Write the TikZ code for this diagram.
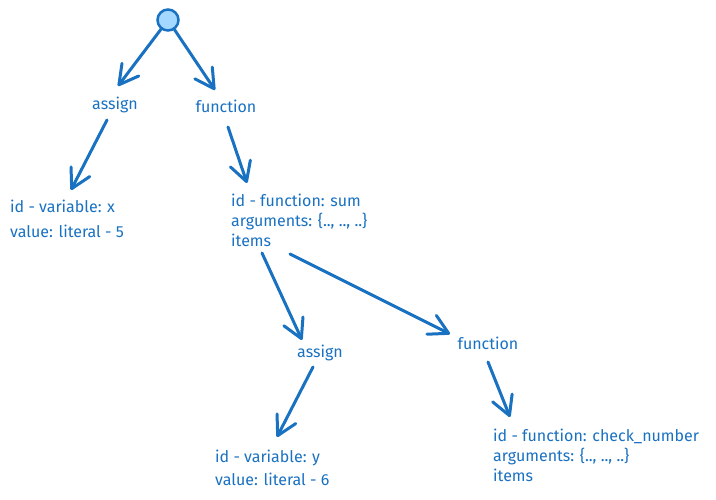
\documentclass[tikz,border=0pt]{standalone}
\usepackage{fontspec}
\setmainfont{Fira Sans}
\usetikzlibrary{arrows.meta,calc}
\definecolor{exblue}{HTML}{1971C2}
\definecolor{exlight}{HTML}{A5D8FF}
\begin{document}
\begin{tikzpicture}[x=1pt,y=-1pt,
  arr/.style={draw=exblue, line width=3pt, line cap=round, line join=round,
    -{Straight Barb[length=19pt,width=21pt,line width=3pt,line cap=round,line join=round]}},
  lbl/.style={text=exblue, font=\fontsize{16}{20}\selectfont, inner sep=0pt},
  ln/.style={lbl, anchor=base west},
  ttl/.style={lbl, anchor=base}]
\useasboundingbox (0,0) rectangle (716,500);
\fill[white] (0,0) rectangle (716,500);
\node[circle, draw=exblue, fill=exlight, line width=2.5pt, minimum size=21pt, inner sep=0pt] (root) at (168,20) {};
% level 1
\node[ttl] (a1) at (115,110) {assign};
\node[ttl] (f1) at (226,113) {function};
% top-left block
\node[ln] (v1) at (10,213) {id - variable: x};
\node[ln] (v2) at (10,238) {value: literal - 5};
% middle block
\node[ln] (m1) at (231,207) {id - function: sum};
\node[ln] (m2) at (231,227) {arguments: \{.., .., ..\}};
\node[ln] (m3) at (231,247) {items};
% level 3
\node[ttl] (a2) at (320,357) {assign};
\node[ttl] (f2) at (488,349) {function};
% bottom-left block
\node[ln] (y1) at (215,462) {id - variable: y};
\node[ln] (y2) at (215,485) {value: literal - 6};
% bottom-right block
\node[ln] (c1) at (493,441) {id - function: check\_number};
\node[ln] (c2) at (493,461) {arguments: \{.., .., ..\}};
\node[ln] (c3) at (493,481) {items};
% arrow ends
\coordinate (t1) at (118,86);
\coordinate (t2) at (215,90);
\coordinate (s3) at (107,120);
\coordinate (t3) at (71,190);
\coordinate (s4) at (228,127);
\coordinate (t4) at (247,183);
\coordinate (s5) at (262,253);
\coordinate (t5) at (302,340);
\coordinate (s6) at (290,254);
\coordinate (t6) at (450,334);
\coordinate (s7) at (313,367);
\coordinate (t7) at (277,437);
\coordinate (s8) at (488,362);
\coordinate (t8) at (510,417);
\draw[arr] (root) -- (t1);
\draw[arr] (root) -- (t2);
\draw[arr] (s3) -- (t3);
\draw[arr] (s4) -- (t4);
\draw[arr] (s5) -- (t5);
\draw[arr] (s6) -- (t6);
\draw[arr] (s7) -- (t7);
\draw[arr] (s8) -- (t8);
\end{tikzpicture}
\end{document}
